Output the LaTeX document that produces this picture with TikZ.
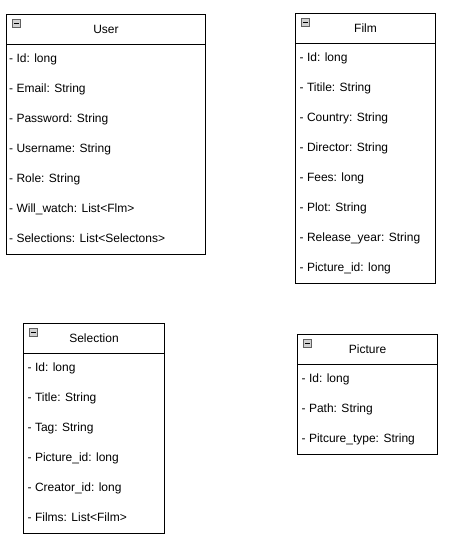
\documentclass[tikz,border=0pt]{standalone}
\usepackage{fontspec}
\setmainfont{Liberation Sans}
\tikzset{
  classhead/.style={draw, line width=1pt, minimum height=30pt, inner sep=0pt, anchor=north west,
    font=\fontsize{12}{14}\selectfont},
  classbody/.style={draw, line width=1pt, inner sep=0pt, anchor=north west},
  attr/.style={anchor=west, inner sep=0pt, text height=8.6pt, text depth=2.4pt,
    font=\fontsize{12}{14}\selectfont},
  iconbox/.style={draw=gray!75!black, fill=gray!35, line width=0.6pt, minimum size=8pt, inner sep=0pt, anchor=north west},
}
\newcommand{\umlicon}[2]{%
  \node[iconbox] (#1-icon) at ([xshift=6pt,yshift=-5pt]#2.north west) {};
  \draw[line width=1pt] ([xshift=-2.5pt]#1-icon.center) -- ([xshift=2.5pt]#1-icon.center);
}
\begin{document}
\begin{tikzpicture}[x=1pt,y=-1pt]
\useasboundingbox (0,0) rectangle (449,545);

% User
\node[classhead, minimum width=199pt] (user) at (6,14) {User};
\node[classbody, minimum width=199pt, minimum height=210pt] (userbody) at (6,44) {};
\umlicon{user}{user}
\foreach \t [count=\i] in {- Id: long, - Email: String, - Password: String, - Username: String,
  - Role: String, - Will\_watch: List<Flm>, - Selections: List<Selectons>}
  \node[attr] (user-\i) at (9,{29.8+30*\i}) {\t};

% Film
\node[classhead, minimum width=140pt] (film) at (295,13) {Film};
\node[classbody, minimum width=140pt, minimum height=240pt] (filmbody) at (295,43) {};
\umlicon{film}{film}
\foreach \t [count=\i] in {- Id: long, - Titile: String, - Country: String, - Director: String,
  - Fees: long, - Plot: String, - Release\_year: String, - Picture\_id: long}
  \node[attr] (film-\i) at (299.5,{28.8+30*\i}) {\t};

% Selection
\node[classhead, minimum width=141pt] (selection) at (23,323) {Selection};
\node[classbody, minimum width=141pt, minimum height=180pt] (selectionbody) at (23,353) {};
\umlicon{selection}{selection}
\foreach \t [count=\i] in {- Id: long, - Title: String, - Tag: String, - Picture\_id: long,
  - Creator\_id: long, - Films: List<Film>}
  \node[attr] (selection-\i) at (27.5,{338.8+30*\i}) {\t};

% Picture
\node[classhead, minimum width=140pt] (picture) at (297,334) {Picture};
\node[classbody, minimum width=140pt, minimum height=90pt] (picturebody) at (297,364) {};
\umlicon{picture}{picture}
\foreach \t [count=\i] in {- Id: long, - Path: String, - Pitcure\_type: String}
  \node[attr] (picture-\i) at (301.5,{349.8+30*\i}) {\t};
\end{tikzpicture}
\end{document}
